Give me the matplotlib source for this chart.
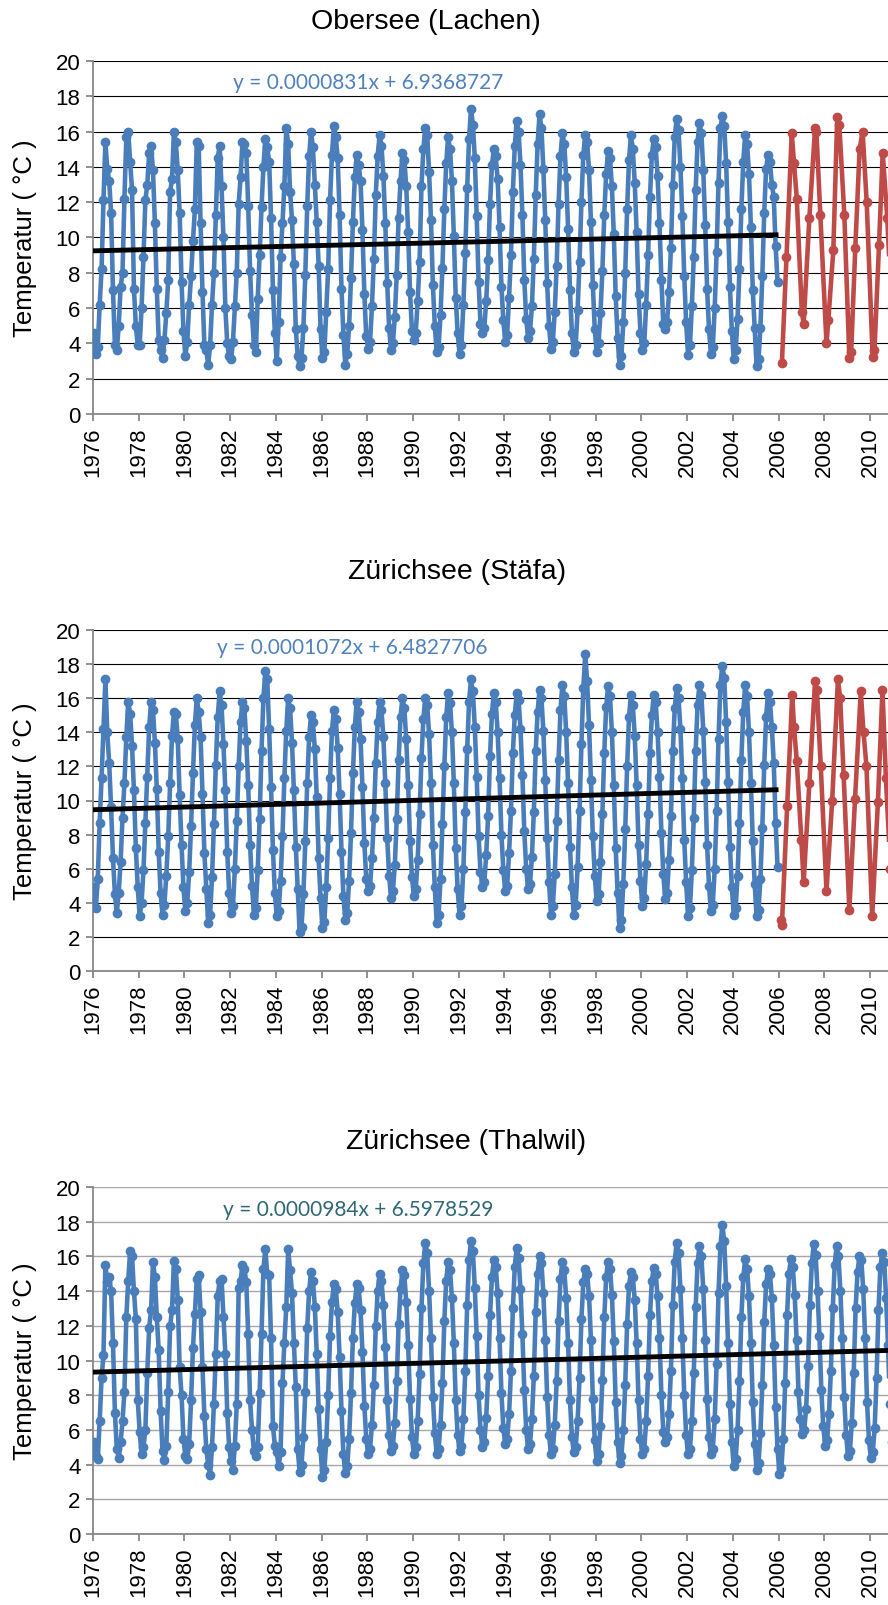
import matplotlib
matplotlib.use("Agg")
import matplotlib.pyplot as plt

plt.rcParams['font.family'] = ['Liberation Sans', 'DejaVu Sans']

# ---- data (monthly values, Jan..Dec) ----
obersee_start = 1976
obersee_blue = [
    [4.6, 3.4, 3.8, 6.2, 8.2, 12.1, 15.4, 13.9, 13.2, 11.4, 7.0, 3.9],
    [3.6, 5.0, 7.2, 8.0, 12.2, 15.7, 16.0, 14.3, 12.7, 7.1, 5.0, 3.9],
    [3.9, 6.0, 8.9, 12.1, 13.0, 14.8, 15.2, 13.8, 10.8, 7.1, 4.2, 3.6],
    [3.2, 4.2, 5.7, 7.6, 12.6, 13.3, 16.0, 15.4, 13.8, 11.4, 7.5, 4.7],
    [3.3, 4.1, 6.2, 7.8, 9.8, 11.6, 15.4, 15.2, 10.8, 6.9, 3.9, 3.6],
    [2.8, 3.9, 6.2, 8.0, 11.3, 14.5, 15.2, 12.9, 10.0, 6.0, 4.0, 3.3],
    [3.1, 4.1, 6.1, 8.0, 11.9, 13.4, 15.4, 15.3, 14.8, 11.8, 8.1, 5.6],
    [3.9, 3.5, 6.5, 9.0, 11.7, 14.0, 15.6, 15.1, 14.3, 11.1, 7.0, 4.6],
    [3.0, 5.2, 8.9, 10.8, 12.9, 16.2, 15.3, 12.6, 11.0, 8.5, 4.8, 3.3],
    [2.7, 3.2, 4.9, 7.9, 11.8, 14.6, 16.0, 15.1, 13.0, 10.9, 8.4, 4.8],
    [3.2, 3.5, 5.8, 8.2, 12.1, 14.7, 16.3, 15.7, 14.5, 11.3, 7.1, 4.5],
    [2.8, 3.4, 5.0, 7.7, 10.9, 13.4, 14.7, 14.1, 13.2, 10.4, 6.8, 4.4],
    [3.7, 4.1, 6.1, 8.8, 12.4, 14.6, 15.8, 15.2, 13.5, 10.8, 7.4, 4.9],
    [3.6, 4.0, 5.5, 7.9, 11.1, 13.2, 14.8, 14.4, 12.9, 10.3, 6.9, 4.7],
    [4.2, 4.6, 6.4, 8.6, 12.9, 15.0, 16.2, 15.8, 13.7, 11.0, 7.3, 5.0],
    [3.5, 3.8, 5.6, 8.3, 11.6, 14.2, 15.7, 15.0, 13.2, 10.1, 6.6, 4.6],
    [3.4, 3.9, 6.2, 9.1, 12.8, 15.6, 17.3, 16.4, 14.5, 11.2, 7.5, 5.1],
    [4.6, 4.9, 6.4, 8.7, 11.9, 14.1, 15.0, 14.6, 13.3, 10.6, 7.2, 5.3],
    [4.1, 4.5, 6.6, 9.0, 12.6, 15.2, 16.6, 16.0, 14.1, 11.3, 7.6, 5.4],
    [4.3, 4.7, 6.1, 8.8, 12.4, 15.3, 17.0, 16.2, 13.9, 11.0, 7.4, 5.0],
    [3.7, 4.1, 5.8, 8.4, 11.9, 14.6, 15.9, 15.3, 13.4, 10.5, 7.0, 4.6],
    [3.5, 3.9, 5.9, 8.6, 12.0, 14.7, 15.8, 15.4, 13.8, 10.9, 7.3, 4.8],
    [3.5, 4.0, 5.7, 8.1, 11.3, 13.6, 14.9, 14.5, 12.9, 10.2, 6.7, 4.3],
    [2.8, 3.3, 5.2, 8.0, 11.6, 14.4, 15.8, 15.0, 13.1, 10.3, 6.8, 4.6],
    [3.6, 4.0, 6.2, 9.0, 12.3, 14.7, 15.6, 15.1, 13.5, 10.8, 7.6, 5.1],
    [4.8, 5.2, 6.9, 9.4, 13.0, 15.7, 16.7, 16.1, 14.0, 11.2, 7.8, 5.2],
    [3.35, 3.9, 6.1, 8.9, 12.7, 15.4, 16.5, 15.9, 13.8, 10.7, 7.1, 4.8],
    [3.4, 3.8, 6.0, 9.2, 13.1, 16.2, 16.9, 16.3, 14.2, 10.9, 7.2, 4.7],
    [3.1, 3.6, 5.4, 8.2, 11.6, 14.3, 15.8, 15.3, 13.6, 10.6, 7.0, 4.9],
    [2.7, 3.1, 4.9, 7.8, 11.4, 13.9, 14.7, 14.3, 13.0, 12.3, 9.5, 7.5],
]
obersee_red_t = [2006.15, 2006.35, 2006.58, 2006.68, 2006.8, 2007.02, 2007.1, 2007.35,
                 2007.6, 2007.66, 2007.83, 2008.1, 2008.18, 2008.4, 2008.57, 2008.66,
                 2008.88, 2009.1, 2009.18, 2009.36, 2009.55, 2009.68, 2009.86, 2010.12,
                 2010.2, 2010.4, 2010.56, 2010.76, 2010.95]
obersee_red_v = [2.9, 8.9, 15.9, 14.2, 12.2, 5.8, 5.1, 11.1, 16.2, 16.0, 11.3, 4.0, 5.3,
                 9.3, 16.8, 16.4, 11.3, 3.2, 3.5, 9.4, 15.0, 16.0, 12.0, 3.25, 3.6, 9.6,
                 14.8, 11.1, 6.0]

staefa_start = 1976
staefa_blue = [
    [4.9, 3.7, 5.4, 8.7, 11.3, 14.2, 17.1, 14.0, 12.2, 9.6, 6.6, 4.5],
    [3.4, 4.6, 6.4, 9.0, 11.0, 13.7, 15.8, 15.1, 13.2, 10.6, 7.2, 4.9],
    [3.2, 4.0, 5.9, 8.7, 11.4, 14.3, 15.8, 15.3, 13.4, 10.7, 7.0, 4.6],
    [3.3, 3.9, 5.6, 7.9, 11.0, 13.8, 15.2, 15.1, 13.6, 10.3, 7.4, 4.9],
    [3.5, 4.0, 5.8, 8.5, 11.6, 14.4, 16.0, 15.2, 13.7, 10.4, 6.9, 4.8],
    [2.8, 3.3, 5.5, 8.6, 12.1, 14.9, 16.4, 15.6, 13.3, 10.6, 7.0, 4.6],
    [3.4, 3.8, 6.0, 8.8, 12.0, 14.6, 15.8, 15.4, 13.5, 10.9, 7.4, 5.0],
    [3.3, 3.7, 5.9, 8.9, 12.9, 16.0, 17.6, 17.1, 14.2, 10.8, 7.1, 4.6],
    [3.2, 3.5, 5.3, 7.9, 11.3, 14.1, 16.0, 15.4, 13.4, 10.6, 7.3, 4.8],
    [2.3, 2.6, 4.5, 7.6, 11.0, 13.7, 15.0, 14.6, 13.0, 10.2, 6.6, 4.3],
    [2.5, 2.9, 4.9, 7.8, 11.3, 14.1, 15.3, 14.8, 13.1, 10.4, 7.0, 4.4],
    [3.0, 3.4, 5.3, 8.1, 11.6, 14.3, 15.8, 15.2, 13.6, 10.8, 7.5, 5.4],
    [4.7, 5.0, 6.6, 9.0, 12.2, 14.6, 15.8, 15.3, 13.7, 11.0, 7.8, 5.6],
    [4.3, 4.7, 6.2, 8.9, 12.4, 14.9, 16.0, 15.4, 13.6, 10.9, 7.6, 5.5],
    [4.4, 4.8, 6.5, 9.2, 12.5, 14.8, 16.0, 15.6, 13.9, 11.0, 7.4, 4.9],
    [2.8, 3.3, 5.4, 8.6, 12.0, 14.9, 16.3, 15.7, 14.0, 11.0, 7.2, 4.8],
    [3.3, 3.8, 6.0, 9.3, 13.0, 15.8, 17.1, 16.4, 14.3, 11.4, 7.9, 5.8],
    [4.9, 5.2, 6.8, 9.1, 12.6, 15.1, 16.3, 15.8, 14.0, 11.3, 8.0, 5.9],
    [4.7, 5.0, 6.9, 9.4, 12.8, 15.0, 16.3, 15.9, 14.2, 11.5, 8.2, 6.0],
    [4.8, 5.1, 6.7, 9.3, 12.9, 15.2, 16.5, 16.0, 14.1, 11.2, 7.8, 5.2],
    [3.3, 3.8, 5.7, 8.8, 12.4, 15.3, 16.8, 16.1, 14.0, 11.0, 7.3, 4.9],
    [3.3, 3.9, 6.1, 9.4, 13.3, 16.6, 18.6, 17.0, 14.4, 11.2, 7.9, 5.6],
    [4.1, 4.5, 6.4, 9.2, 12.8, 15.5, 16.7, 16.1, 14.0, 10.9, 7.2, 4.6],
    [2.5, 3.0, 5.1, 8.3, 12.0, 14.9, 16.2, 15.6, 13.8, 10.9, 7.4, 5.3],
    [3.8, 4.3, 6.3, 9.2, 12.8, 15.0, 16.2, 15.8, 14.0, 11.4, 8.1, 5.7],
    [4.2, 4.6, 6.5, 9.1, 12.9, 15.4, 16.6, 16.0, 14.2, 11.3, 7.7, 5.2],
    [3.2, 3.7, 5.9, 9.0, 12.9, 15.6, 16.8, 16.2, 14.1, 11.1, 7.4, 5.0],
    [3.5, 3.9, 6.0, 9.4, 13.6, 16.8, 17.9, 17.2, 14.6, 11.1, 7.3, 4.9],
    [3.3, 3.7, 5.6, 8.7, 12.4, 15.2, 16.8, 16.1, 14.0, 11.0, 7.6, 5.1],
    [3.2, 3.6, 5.4, 8.4, 12.1, 14.9, 16.3, 15.8, 14.3, 12.2, 8.7, 6.1],
]
staefa_red_t = [2006.1, 2006.15, 2006.38, 2006.6, 2006.68, 2006.8, 2007.0, 2007.1, 2007.35,
                2007.6, 2007.68, 2007.85, 2008.1, 2008.35, 2008.6, 2008.7, 2008.85, 2009.1,
                2009.35, 2009.6, 2009.72, 2009.85, 2010.1, 2010.35, 2010.55, 2010.7, 2010.9]
staefa_red_v = [3.0, 2.7, 9.7, 16.2, 14.3, 12.3, 7.7, 5.2, 11.0, 17.0, 16.5, 12.0, 4.7,
                10.0, 17.1, 16.0, 11.5, 3.6, 10.1, 16.4, 14.0, 12.0, 3.2, 9.9, 16.5, 11.3, 6.0]

thalwil_start = 1976
thalwil_blue = [
    [5.3, 4.5, 4.3, 6.5, 9.0, 10.3, 15.5, 14.5, 14.8, 14.0, 11.0, 7.0],
    [4.9, 4.4, 5.3, 6.5, 8.2, 12.5, 14.6, 16.3, 16.0, 14.0, 12.4, 7.7],
    [5.9, 4.6, 5.0, 6.0, 9.3, 11.9, 12.9, 15.7, 14.8, 12.5, 10.6, 7.1],
    [4.8, 4.25, 5.1, 8.2, 12.0, 12.9, 15.75, 15.3, 13.5, 9.6, 8.0, 5.5],
    [4.5, 4.3, 5.2, 7.7, 10.7, 12.7, 14.7, 14.9, 12.8, 9.6, 6.8, 4.9],
    [4.0, 3.4, 5.0, 7.5, 10.4, 13.7, 14.6, 14.7, 12.5, 10.4, 7.0, 5.0],
    [4.2, 3.7, 5.1, 7.5, 14.2, 14.6, 15.5, 15.3, 14.5, 11.5, 7.7, 6.0],
    [4.8, 4.5, 5.0, 8.1, 11.5, 15.3, 16.4, 15.0, 14.9, 11.3, 6.2, 5.1],
    [4.7, 3.9, 4.7, 8.7, 11.0, 13.1, 16.4, 15.2, 13.9, 11.0, 8.5, 4.9],
    [3.6, 4.0, 5.6, 8.2, 11.9, 14.0, 15.1, 14.6, 13.1, 10.4, 7.2, 4.9],
    [3.3, 3.7, 5.3, 8.0, 11.4, 13.4, 14.4, 14.1, 12.8, 10.2, 7.1, 4.6],
    [3.5, 3.9, 5.5, 8.1, 11.3, 13.3, 14.4, 14.2, 12.9, 10.5, 7.4, 5.5],
    [4.6, 4.9, 6.3, 8.6, 12.0, 14.0, 15.0, 14.6, 13.2, 10.8, 7.7, 5.7],
    [4.8, 5.1, 6.4, 8.8, 12.1, 14.1, 15.2, 14.9, 13.4, 10.9, 7.8, 5.6],
    [4.6, 5.0, 6.5, 9.2, 13.0, 15.6, 16.8, 16.2, 14.0, 11.3, 7.9, 5.8],
    [4.6, 4.9, 6.3, 8.7, 12.3, 14.6, 15.7, 15.2, 13.6, 11.0, 7.7, 5.7],
    [4.8, 5.1, 6.6, 9.4, 13.2, 15.8, 16.9, 16.3, 14.2, 11.4, 8.0, 6.0],
    [5.0, 5.3, 6.7, 9.1, 12.6, 14.8, 15.8, 15.4, 13.9, 11.3, 8.1, 6.1],
    [5.2, 5.5, 6.9, 9.4, 13.0, 15.4, 16.5, 15.9, 14.1, 11.5, 8.3, 6.0],
    [4.9, 5.2, 6.6, 9.1, 12.8, 15.0, 16.0, 15.6, 13.9, 11.2, 7.9, 5.7],
    [4.6, 4.9, 6.3, 8.8, 12.3, 14.7, 15.7, 15.2, 13.6, 11.0, 7.7, 5.6],
    [4.7, 5.0, 6.5, 9.0, 12.4, 14.5, 15.3, 15.0, 13.7, 11.2, 7.8, 5.4],
    [4.2, 4.6, 6.2, 8.9, 12.5, 14.8, 15.7, 15.3, 13.8, 11.1, 7.6, 5.3],
    [4.1, 4.5, 6.0, 8.6, 12.1, 14.3, 15.1, 14.8, 13.5, 11.0, 7.7, 5.5],
    [4.6, 4.9, 6.5, 9.1, 12.6, 14.6, 15.35, 15.0, 13.7, 11.3, 8.0, 5.9],
    [5.3, 5.6, 6.9, 9.4, 13.2, 15.7, 16.8, 16.2, 14.1, 11.3, 8.0, 5.7],
    [4.6, 4.9, 6.5, 9.3, 13.1, 15.6, 16.6, 16.0, 14.1, 11.2, 7.8, 5.6],
    [4.6, 4.9, 6.6, 9.8, 13.9, 16.6, 17.8, 16.9, 14.3, 11.0, 7.5, 5.3],
    [3.9, 4.3, 6.0, 8.8, 12.5, 14.8, 15.85, 15.3, 13.7, 11.0, 7.6, 5.2],
    [3.7, 4.1, 5.8, 8.6, 12.2, 14.4, 15.3, 15.0, 13.6, 10.9, 7.3, 4.9],
    [3.45, 3.8, 5.5, 8.7, 12.6, 15.0, 15.85, 15.4, 13.8, 11.2, 8.2, 6.6],
    [5.75, 6.0, 7.2, 9.7, 13.2, 15.6, 16.7, 16.1, 14.0, 11.4, 8.3, 6.2],
    [5.1, 5.4, 6.9, 9.4, 13.0, 15.5, 16.6, 16.0, 14.0, 11.3, 7.9, 5.7],
    [4.5, 4.8, 6.4, 9.3, 13.0, 15.1, 16.0, 15.8, 14.1, 11.3, 7.6, 5.4],
    [4.4, 4.7, 6.1, 9.0, 12.9, 15.4, 16.2, 15.7, 13.6, 10.9, 7.5, 5.3],
    [4.6, 4.9, 6.6, 9.6, 13.4, 15.6, 16.3, 15.8, 14.0, 11.2, 7.9, 5.6],
]

titles = ["Obersee (Lachen)", "Zürichsee (Stäfa)", "Zürichsee (Thalwil)"]
equations = ["y = 0.0000831x + 6.9368727", "y = 0.0001072x + 6.4827706",
             "y = 0.0000984x + 6.5978529"]
slopes = [0.0000831, 0.0001072, 0.0000984]
intercepts = [6.9368727, 6.4827706, 6.5978529]
trend_end = [2006.0, 2006.0, 2012.0]
year_ticks = list(range(1976, 2011, 2))

BLUE = '#4A7EBB'
RED = '#BE4B48'


def month_series(start, rows):
    xs, ys = [], []
    for i, row in enumerate(rows):
        for m, v in enumerate(row):
            xs.append(start + i + (m + 0.5) / 12)
            ys.append(v)
    return xs, ys


def excel_serial(year):
    # days since 1899-12-30, 1976-01-01 = 27760
    return 27760 + (year - 1976) * 365.25


W, H = 888, 1606
fig = plt.figure(figsize=(W / 100, H / 100), dpi=100)

# pixel layout of each panel: (axes top, axes bottom, title x, title y, eq x, eq y, ...)
layout = [
    (62, 415, 426, 22, 368, 83, '#4F81BD', 'black', 0.8),
    (631, 972, 457, 572, 352, 648, '#4F81BD', 'black', 0.8),
    (1188, 1535, 466, 1142, 358, 1210, '#2F6774', '#A6A6A6', 1.0),
]
blue_sets = [month_series(obersee_start, obersee_blue),
             month_series(staefa_start, staefa_blue),
             month_series(thalwil_start, thalwil_blue)]
red_sets = [(obersee_red_t, obersee_red_v), (staefa_red_t, staefa_red_v), None]

left_px = 93
px_per_year = 22.85
x0, x1 = 1976, 2012

for k in range(3):
    top, bot, tx, ty, ex, ey, eqc, gridc, gridw = layout[k]
    ax = fig.add_axes([left_px / W, 1 - bot / H,
                       (x1 - x0) * px_per_year / W, (bot - top) / H])
    ax.set_xlim(x0, x1)
    ax.set_ylim(0, 20)

    bx, by = blue_sets[k]
    ax.plot(bx, by, color=BLUE, lw=3.3, marker='o', ms=6, zorder=3)
    if red_sets[k] is not None:
        rx, ry = red_sets[k]
        ax.plot(rx, ry, color=RED, lw=3.3, marker='o', ms=6, zorder=3)

    tx_ = [1976.0, trend_end[k]]
    ty_ = [slopes[k] * excel_serial(t) + intercepts[k] for t in tx_]
    ax.plot(tx_, ty_, color='black', lw=3.5, zorder=4, solid_capstyle='butt')

    ax.set_yticks(range(0, 21, 2))
    ax.set_xticks(year_ticks)
    ax.set_xticklabels([str(y) for y in year_ticks], rotation=90)
    ax.grid(axis='y', color=gridc, lw=gridw, zorder=0)
    ax.set_axisbelow(True)
    for s in ['top', 'right']:
        ax.spines[s].set_visible(False)
    for s in ['left', 'bottom']:
        ax.spines[s].set_color('#878787')
        ax.spines[s].set_linewidth(1.3)
    ax.tick_params(direction='out', length=5, width=1.3, color='#878787',
                   labelsize=16, pad=4)

    fig.text(tx / W, 1 - ty / H, titles[k], ha='center', va='center', fontsize=20.5)
    fig.text(ex / W, 1 - ey / H, equations[k], ha='center', va='center',
             fontsize=15, color=eqc, family=['Lato', 'DejaVu Sans'])
    fig.text(25 / W, 1 - (top + bot) / 2 / H, 'Temperatur ( °C )', rotation=90,
             ha='center', va='center', fontsize=18.5)

fig.savefig('out.png', dpi=100)
